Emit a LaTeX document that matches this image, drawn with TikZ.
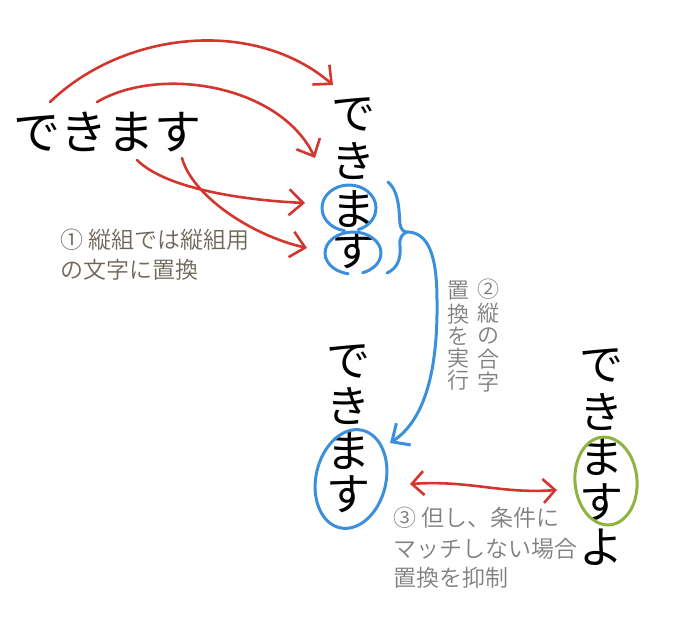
\documentclass[tikz,border=0pt]{standalone}
\usepackage{fontspec}
\newfontfamily\jp{Noto Sans CJK JP}
\newfontfamily\jpn{Noto Sans CJK JP DemiLight}
\usetikzlibrary{arrows.meta}
\definecolor{myred}{HTML}{D2362E}
\definecolor{myblue}{HTML}{3B8FDC}
\definecolor{mygreen}{HTML}{8CB43F}
\definecolor{brownish}{HTML}{6E665A}
\definecolor{grayish}{HTML}{7F7F7F}
\begin{document}
\begin{tikzpicture}[x=1pt,y=-1pt,
  big/.style={inner sep=0pt, font=\jp\fontsize{47}{47}\selectfont},
  vch/.style={inner sep=0pt, font=\jp\fontsize{44}{44}\selectfont},
  note/.style={inner sep=0pt, anchor=west, font=\jpn\fontsize{23}{23}\selectfont},
  vnote/.style={inner sep=0pt, text=grayish, font=\jpn\fontsize{22}{22}\selectfont},
  redarrow/.style={draw=myred, line width=2.6pt, line cap=round, line join=round,
    -{Straight Barb[length=14pt,width=26pt]}},
  redboth/.style={draw=myred, line width=2.6pt, line cap=round, line join=round,
    {Straight Barb[length=12pt,width=24pt]}-{Straight Barb[length=12pt,width=24pt]}},
  bluearrow/.style={draw=myblue, line width=3pt, line cap=round, line join=round,
    -{Straight Barb[length=14pt,width=26pt]}},
  blueline/.style={draw=myblue, line width=3pt, line cap=round},
  greenline/.style={draw=mygreen, line width=3pt, line cap=round}
]
\useasboundingbox (0,0) rectangle (685,638);

% horizontal text
\node[big] (h) at (107.5,132) {できます};

% top-right vertical column
\foreach \ch/\yy [count=\i] in {で/114,き/161,ま/209,す/250}
  \node[vch] (tr\i) at (353,\yy) {\ch};

% middle vertical column
\foreach \ch/\yy [count=\i] in {で/361,き/406,ま/451,す/494}
  \node[vch] (md\i) at (348,\yy) {\ch};

% right vertical column
\foreach \ch/\yy [count=\i] in {で/365,き/412,ま/457,す/502,よ/547}
  \node[vch] (rt\i) at (601,\yy) {\ch};

% annotations
\node[note, text=brownish] (n1a) at (60,240) {① 縦組では縦組用};
\node[note, text=brownish] (n1b) at (60,270) {の文字に置換};

\foreach \ch/\yy [count=\i] in {②/289,縦/313,の/336,合/359,字/382}
  \node[vnote] (n2a\i) at (488,\yy) {\ch};
\foreach \ch/\yy [count=\i] in {置/291,換/314,を/336,実/358,行/380}
  \node[vnote] (n2b\i) at (458,\yy) {\ch};

\node[note, text=grayish] (n3a) at (393,518) {③ 但し、条件に};
\node[note, text=grayish] (n3b) at (393,549) {マッチしない場合};
\node[note, text=grayish] (n3c) at (393,578) {置換を抑制};

% connector end points
\coordinate (r1s) at (50,102);  \coordinate (r1e) at (333,85);
\coordinate (r2s) at (97,102);  \coordinate (r2e) at (315,158);
\coordinate (r3s) at (137,160); \coordinate (r3e) at (305,203);
\coordinate (r4s) at (182,158); \coordinate (r4e) at (307,248);
\coordinate (dl) at (410,484);  \coordinate (dr) at (557,490);
\coordinate (btip) at (407,232); \coordinate (bend) at (390,443);

% red arrows
\draw[redarrow] (r1s) .. controls (125,30) and (255,18) .. (r1e);
\draw[redarrow] (r2s) .. controls (160,65) and (280,85) .. (r2e);
\draw[redarrow] (r3s) .. controls (165,188) and (240,200) .. (r3e);
\draw[redarrow] (r4s) .. controls (192,195) and (250,235) .. (r4e);
\draw[redboth] (dl) .. controls (470,480) and (500,494) .. (dr);

% blue circles around ま and す (top column)
\draw[blueline] ([shift={(100:27 and 23)}]349,208) arc[start angle=100, end angle=430, x radius=27, y radius=23];
\draw[blueline] ([shift={(100:28 and 21)}]353,253) arc[start angle=100, end angle=430, x radius=28, y radius=21];

% brace
\draw[blueline] (388,182) .. controls (400,192) and (399,215) .. (400,224)
  .. controls (401,230) and (404,232) .. (btip)
  .. controls (402,234) and (399,238) .. (400,246)
  .. controls (401,258) and (398,268) .. (387,273);

% blue arrow
\draw[bluearrow] (btip) .. controls (428,232) and (437,255) .. (437,300)
  .. controls (438,370) and (425,420) .. (bend);

% big blue ellipse around merged ます
\draw[blueline, rotate around={-13:(351,479)}] (351,479) ellipse [x radius=35, y radius=50];

% green ellipse
\draw[greenline, rotate around={5:(606,481)}] (606,481) ellipse [x radius=31, y radius=44];
\end{tikzpicture}
\end{document}
